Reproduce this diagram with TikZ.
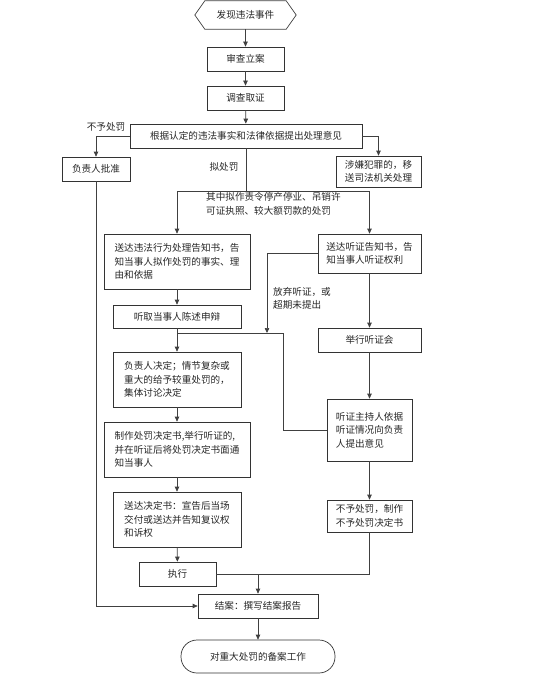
\documentclass[tikz,border=0pt]{standalone}
\usepackage{fontspec}
\newfontfamily\cjk{Noto Sans CJK SC}
\usetikzlibrary{arrows.meta,calc}
\begin{document}
\begin{tikzpicture}[x=1pt,y=-1pt,
  every node/.style={font=\cjk\fontsize{9.6}{13.5}\selectfont,inner sep=0pt,text=black!85},
  box/.style={draw=black!80,line width=0.7pt,minimum width=#1,align=left},
  line/.style={draw=black!75,line width=0.7pt},
  arr/.style={line,-{Triangle[length=5pt,width=4.5pt]}},
  lbl/.style={align=left}]
\useasboundingbox (0,0) rectangle (552,682);
% start hexagon
\node (start) at (245.5,15) [minimum width=101pt,minimum height=28pt] {发现违法事件};
\draw[line] (start.west) -- ($(start.north west)+(10,0)$) -- ($(start.north east)+(-10,0)$) -- (start.east)
  -- ($(start.south east)+(-10,0)$) -- ($(start.south west)+(10,0)$) -- cycle;
\node[box=77pt,minimum height=24pt] (shencha) at (245.5,59) {审查立案};
\node[box=77pt,minimum height=24pt] (diaocha) at (245.5,98) {调查取证};
\node[box=232pt,minimum height=24pt] (genju) at (246,136) {根据认定的违法事实和法律依据提出处理意见};
\node[box=68pt,minimum height=24pt] (fuzeren) at (96,169) {负责人批准};
\node[box=85pt,minimum height=31pt] (shexian) at (378.5,171.5) {涉嫌犯罪的，移\\送司法机关处理};
\node[box=146pt,minimum height=55pt] (songda) at (177,261.5) {送达违法行为处理告知书，告\\知当事人拟作处罚的事实、理\\由和依据};
\node[box=103pt,minimum height=39pt] (songting) at (369.5,253.5) {送达听证告知书，告\\知当事人听证权利};
\node[box=128pt,minimum height=23pt] (tingqu) at (177,316.5) {听取当事人陈述申辩};
\node[box=103pt,minimum height=24pt] (juxing) at (369.5,340) {举行听证会};
\node[box=128pt,minimum height=55pt] (jueding) at (177,379.5) {负责人决定；情节复杂或\\重大的给予较重处罚的，\\集体讨论决定};
\node[box=85pt,minimum height=62pt] (zhuchi) at (369.5,430) {听证主持人依据\\听证情况向负责\\人提出意见};
\node[box=146pt,minimum height=55pt] (zhizuo) at (177,449.5) {制作处罚决定书,举行听证的,\\并在听证后将处罚决定书面通\\知当事人};
\node[box=85pt,minimum height=32pt] (buyu) at (369.5,516) {不予处罚，制作\\不予处罚决定书};
\node[box=128pt,minimum height=55pt] (songjue) at (177,519.5) {送达决定书：宣告后当场\\交付或送达并告知复议权\\和诉权};
\node[box=77pt,minimum height=24pt] (zhixing) at (177.5,574) {执行};
\node[box=120pt,minimum height=24pt] (jiean) at (258,606) {结案：撰写结案报告};
\node[box=154pt,minimum height=33pt,rounded corners=16pt] (final) at (258,656.5) {对重大处罚的备案工作};
% labels
\node[lbl] (l1) at (106,127) {不予处罚};
\node[lbl] (l2) at (224,167) {拟处罚};
\node[lbl,anchor=west] (l3) at (206,204) {其中拟作责令停产停业、吊销许\\可证执照、较大额罚款的处罚};
\node[lbl,anchor=west] (l4) at (273,298.5) {放弃听证，或\\超期未提出};
% coordinates
\coordinate (split) at (246,191);
\coordinate (giveup) at (267,333);
\coordinate (j1) at (177,333);
\coordinate (j2) at (283,333);
\coordinate (j3) at (258,574);
% connectors
\draw[arr] (start.south) -- (shencha.north);
\draw[arr] (shencha) -- (diaocha);
\draw[arr] (diaocha) -- (genju);
\draw[arr] (genju.west) -| (fuzeren.north);
\draw[arr] (genju.east) -| (shexian.north);
\draw[line] (genju.south) -- (split);
\draw[arr] (split) -| (songda.north);
\draw[arr] (split) -| (songting.north);
\draw[arr] (songda) -- (tingqu);
\draw[arr] (songting.west) -| (giveup);
\draw[arr] (tingqu) -- (jueding);
\draw[line] (zhuchi.west) -| (j2) -- (j1);
\draw[arr] (songting) -- (juxing);
\draw[arr] (juxing) -- (zhuchi);
\draw[arr] (zhuchi) -- (buyu);
\draw[arr] (jueding) -- (zhizuo);
\draw[arr] (zhizuo) -- (songjue);
\draw[arr] (songjue) -- (zhixing);
\draw[line] (buyu.south) |- (zhixing.east);
\draw[arr] (j3) -- (jiean.north);
\draw[arr] (fuzeren.south) |- (jiean.west);
\draw[arr] (jiean) -- (final);
\end{tikzpicture}
\end{document}
